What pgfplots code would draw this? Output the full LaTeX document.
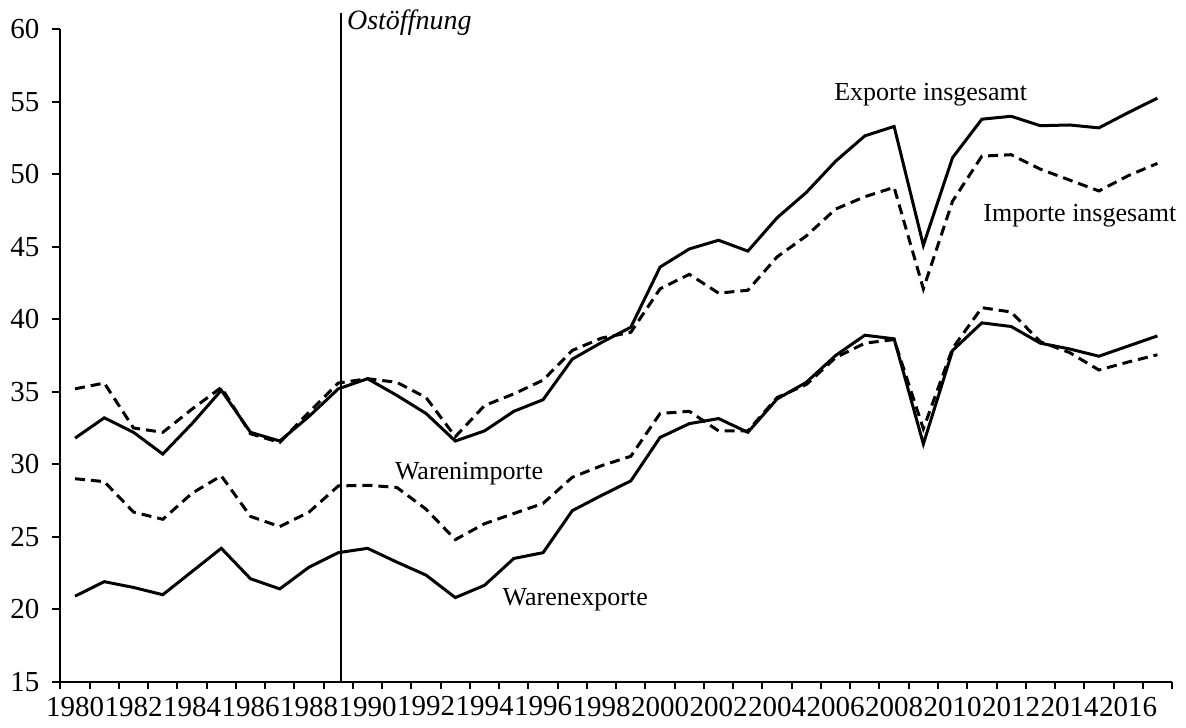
\documentclass[border=0pt]{standalone}
\usepackage{fontspec}
\setmainfont{Liberation Serif}
\usepackage{pgfplots}
\pgfplotsset{compat=1.18}
\usepackage{pgfplotstable}

\pgfplotstableread{
year expg impg wimp wexp
1980 31.8 35.2 29.0 20.9
1981 33.2 35.6 28.8 21.9
1982 32.2 32.5 26.7 21.5
1983 30.7 32.2 26.2 21.0
1984 32.8 33.8 28.0 22.6
1985 35.1 35.3 29.2 24.2
1986 32.2 32.1 26.4 22.1
1987 31.6 31.5 25.7 21.4
1988 33.3 33.6 26.7 22.9
1989 35.2 35.6 28.5 23.9
1990 35.9 35.9 28.55 24.2
1991 34.75 35.65 28.4 23.25
1992 33.5 34.6 26.9 22.35
1993 31.6 31.9 24.8 20.8
1994 32.3 34.05 25.9 21.65
1995 33.65 34.85 26.6 23.5
1996 34.45 35.8 27.3 23.9
1997 37.25 37.85 29.1 26.8
1998 38.4 38.7 29.9 27.85
1999 39.45 39.1 30.55 28.85
2000 43.6 42.1 33.5 31.85
2001 44.85 43.1 33.65 32.8
2002 45.45 41.8 32.3 33.15
2003 44.7 42.0 32.3 32.2
2004 47.0 44.3 34.6 34.5
2005 48.75 45.75 35.5 35.65
2006 50.9 47.6 37.35 37.5
2007 52.65 48.45 38.35 38.9
2008 53.3 49.1 38.6 38.65
2009 45.1 42.1 32.45 31.4
2010 51.15 48.15 38.0 37.85
2011 53.8 51.25 40.8 39.75
2012 54.0 51.35 40.5 39.5
2013 53.35 50.35 38.45 38.35
2014 53.4 49.6 37.7 37.95
2015 53.2 48.85 36.5 37.45
2016 54.25 49.9 37.05 38.15
2017 55.25 50.75 37.55 38.85
}\data

\begin{document}
\begin{tikzpicture}
\useasboundingbox (-30.2pt,-22.65pt) rectangle (562.8pt,340.85pt);
\begin{axis}[
  at={(0,0)}, anchor=south west,
  width=555.8pt, height=326.2pt, scale only axis,
  xmin=1979.5, xmax=2017.5, ymin=15, ymax=60,
  axis lines*=left,
  ytick={15,20,...,60},
  xtick={1980,1982,...,2016},
  minor xtick={1979.5,1980.5,...,2017.5},
  tick align=outside,
  major x tick style={draw=none},
  major tick length=4pt, minor tick length=3.5pt,
  xticklabel style={/pgf/number format/.cd,1000 sep={}},
  ticklabel style={font=\fontsize{14.5}{16}\selectfont},
  yticklabel style={xshift=-3pt},
  /pgf/number format/assume math mode=true,
  axis line style={line width=1pt, black},
  tick style={line width=1pt, black},
  clip=false,
]
\addplot[black, line width=1.5pt] table[x=year,y=expg]{\data};
\addplot[black, line width=1.5pt, dash pattern=on 5pt off 3pt] table[x=year,y=impg]{\data};
\addplot[black, line width=1.5pt, dash pattern=on 5pt off 3pt] table[x=year,y=wimp]{\data};
\addplot[black, line width=1.5pt] table[x=year,y=wexp]{\data};
\addplot[black, line width=0.9pt] coordinates {(1989.08,15) (1989.08,61.14)};
\node[anchor=base west, inner sep=0pt, xshift=3pt, font=\itshape\fontsize{14}{16}\selectfont] at (axis cs:1989.08,60) {Ostöffnung};
\node[font=\fontsize{13}{15}\selectfont] at (axis cs:2009.25,55.5) {Exporte insgesamt};
\node[font=\fontsize{13}{15}\selectfont] at (axis cs:2014.35,47.14) {Importe insgesamt};
\node[font=\fontsize{13}{15}\selectfont] at (axis cs:1993.47,29.37) {Warenimporte};
\node[font=\fontsize{13}{15}\selectfont] at (axis cs:1997.1,20.63) {Warenexporte};
\end{axis}
\end{tikzpicture}
\end{document}
